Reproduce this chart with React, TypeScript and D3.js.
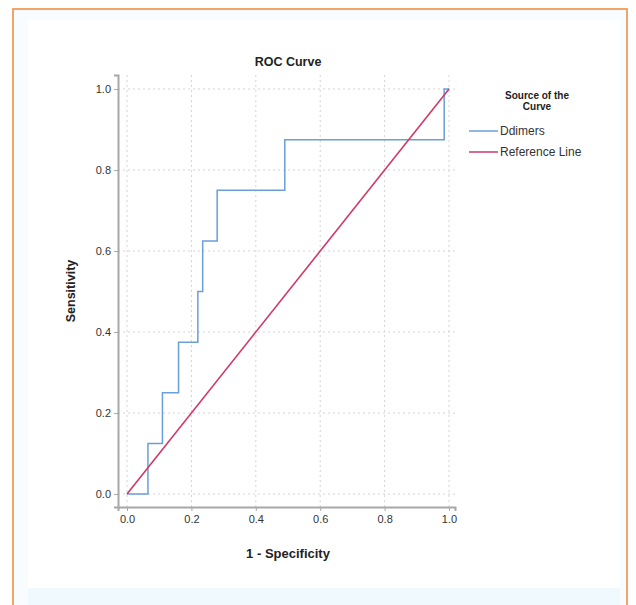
import * as d3 from "d3";
import { useEffect, useRef } from "react";

// ROC data (1 - specificity, sensitivity)
const ddimersFpr = [0, 0.065, 0.065, 0.11, 0.11, 0.16, 0.16, 0.22, 0.22, 0.235, 0.235, 0.28, 0.28, 0.49, 0.49, 0.985, 0.985, 1];
const ddimersTpr = [0, 0, 0.125, 0.125, 0.25, 0.25, 0.375, 0.375, 0.5, 0.5, 0.625, 0.625, 0.75, 0.75, 0.875, 0.875, 1, 1];
const refFpr = [0, 1];
const refTpr = [0, 1];
const tickVals = [0, 0.2, 0.4, 0.6, 0.8, 1.0];
const legendNames = ["Ddimers", "Reference Line"];
const legendColors = ["#6a9fd8", "#cf3a68"];

const W = 636;
const H = 605;

const App = () => {
  const ref = useRef<SVGSVGElement>(null);

  useEffect(() => {
    const svg = d3.select(ref.current);
    svg.selectAll("*").remove();
    const font = "'Liberation Sans', Arial, sans-serif";

    // frame / background
    svg.append("rect").attr("x", 0).attr("y", 0).attr("width", W).attr("height", H).attr("fill", "#fff");
    svg.append("rect").attr("x", 13).attr("y", 9).attr("width", 614).attr("height", 610)
      .attr("fill", "#f8fcfe").attr("stroke", "#f0a56a").attr("stroke-width", 2);
    svg.append("rect").attr("x", 28).attr("y", 20).attr("width", 592).attr("height", 568).attr("fill", "#ffffff");
    svg.append("rect").attr("x", 28).attr("y", 588).attr("width", 592).attr("height", 20).attr("fill", "#f0f9fe");

    // scales (axis lines sit a little outside 0 and 1)
    const x = d3.scaleLinear().domain([-0.028, 1.0186]).range([118, 455]);
    const y = d3.scaleLinear().domain([-0.032, 1.0346]).range([507, 75]);

    // grid
    const grid = svg.append("g").attr("stroke", "#d4d4d4").attr("stroke-dasharray", "2,3").attr("stroke-width", 1);
    tickVals.forEach((t) => {
      grid.append("line").attr("x1", x(t)).attr("x2", x(t)).attr("y1", 75).attr("y2", 507);
      grid.append("line").attr("x1", 118).attr("x2", 455).attr("y1", y(t)).attr("y2", y(t));
    });

    // axes
    const fmt = d3.format(".1f");
    const gx = svg.append("g").attr("transform", "translate(0,507)")
      .call(d3.axisBottom(x).tickValues(tickVals).tickFormat((d) => fmt(d as number)).tickSizeOuter(0).tickSize(4));
    const gy = svg.append("g").attr("transform", "translate(118,0)")
      .call(d3.axisLeft(y).tickValues(tickVals).tickFormat((d) => fmt(d as number)).tickSizeOuter(0).tickSize(4));
    [gx, gy].forEach((g) => {
      g.select(".domain").attr("stroke", "#a8a8a8").attr("stroke-width", 2);
      g.selectAll(".tick line").attr("stroke", "#a8a8a8");
      g.selectAll("text").attr("fill", "#333").style("font-family", font).style("font-size", "11px");
    });
    gx.selectAll("text").attr("dy", "0.85em");

    // lines
    const path = d3.line();
    const ddPts = ddimersFpr.map((f, i) => [x(f), y(ddimersTpr[i])] as [number, number]);
    const refPts = refFpr.map((f, i) => [x(f), y(refTpr[i])] as [number, number]);
    svg.append("path").attr("d", path(ddPts)).attr("fill", "none").attr("stroke", legendColors[0]).attr("stroke-width", 1.5);
    svg.append("path").attr("d", path(refPts)).attr("fill", "none").attr("stroke", legendColors[1]).attr("stroke-width", 1.6);

    // titles
    svg.append("text").attr("x", 288).attr("y", 66).attr("text-anchor", "middle")
      .style("font-family", font).style("font-size", "12.5px").style("font-weight", "bold").attr("fill", "#222").text("ROC Curve");
    svg.append("text").attr("x", 288).attr("y", 558).attr("text-anchor", "middle")
      .style("font-family", font).style("font-size", "13px").style("font-weight", "bold").attr("fill", "#222").text("1 - Specificity");
    svg.append("text").attr("transform", "translate(75,291) rotate(-90)").attr("text-anchor", "middle")
      .style("font-family", font).style("font-size", "12.5px").style("font-weight", "bold").attr("fill", "#222").text("Sensitivity");

    // legend
    const lg = svg.append("g");
    lg.append("text").attr("x", 537).attr("y", 99).attr("text-anchor", "middle")
      .style("font-family", font).style("font-size", "10px").style("font-weight", "bold").attr("fill", "#222").text("Source of the");
    lg.append("text").attr("x", 537).attr("y", 110).attr("text-anchor", "middle")
      .style("font-family", font).style("font-size", "10px").style("font-weight", "bold").attr("fill", "#222").text("Curve");
    legendNames.forEach((n, i) => {
      const yy = 131 + i * 21;
      lg.append("line").attr("x1", 469).attr("x2", 498).attr("y1", yy).attr("y2", yy)
        .attr("stroke", legendColors[i]).attr("stroke-width", 1.5);
      lg.append("text").attr("x", 500).attr("y", yy + 4)
        .style("font-family", font).style("font-size", "12px").attr("fill", "#333").text(n);
    });
  }, []);

  return <svg ref={ref} width={W} height={H} style={{ position: "absolute", left: 0, top: 0 }} />;
};

export default App;
